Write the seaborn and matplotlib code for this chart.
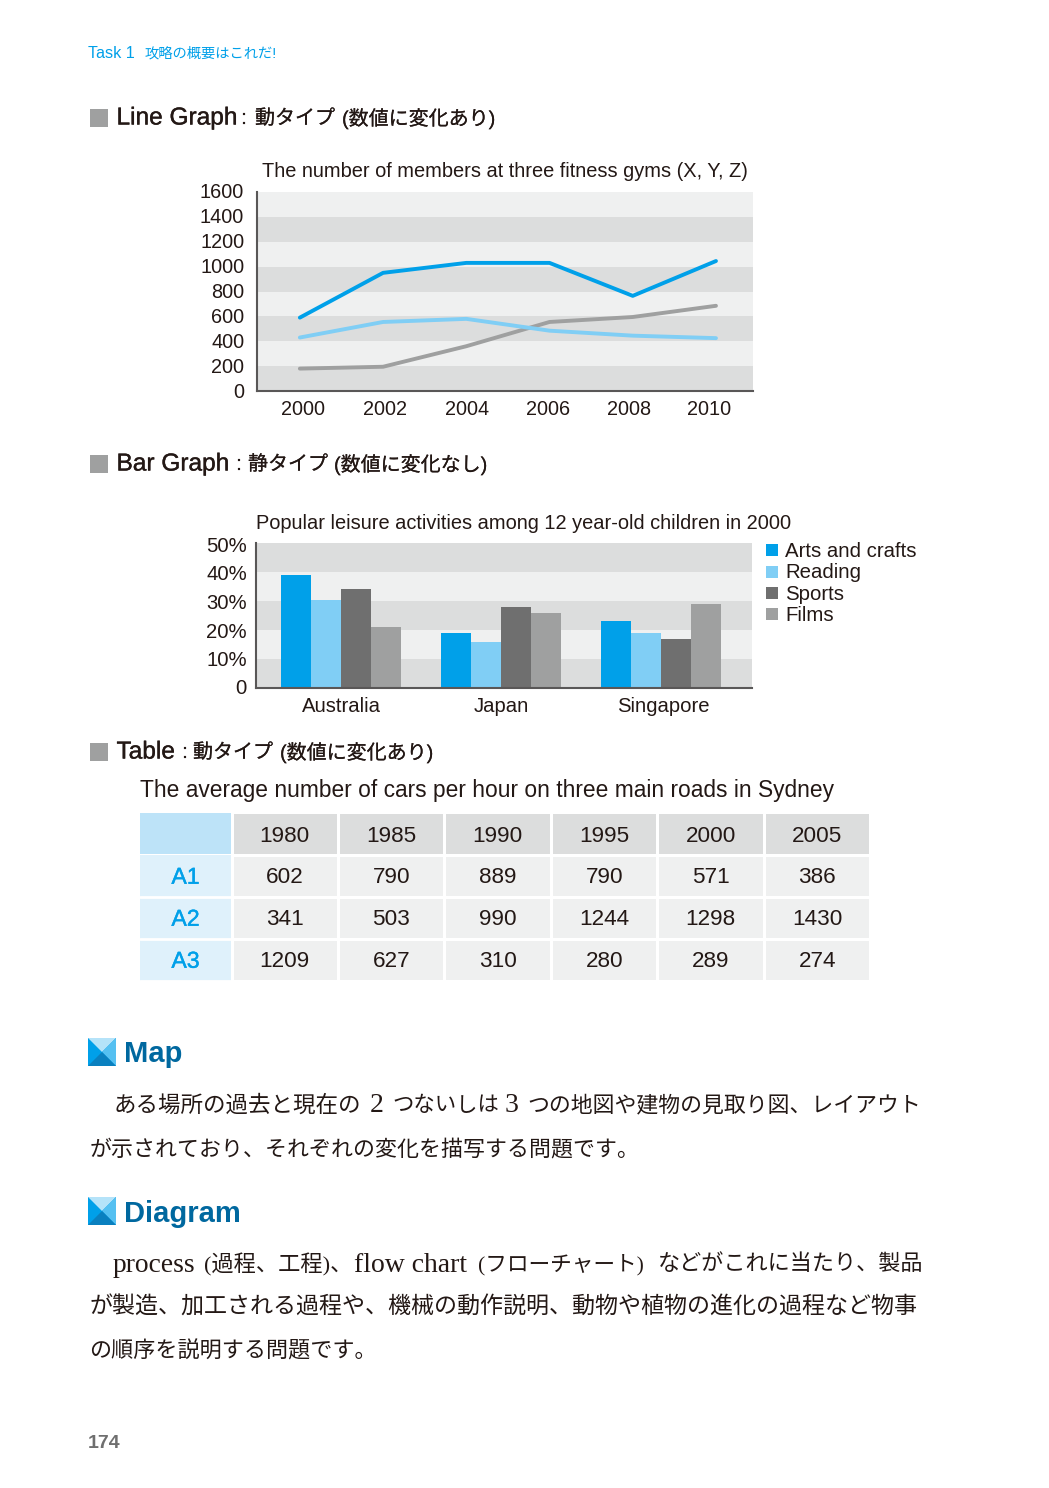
import numpy as np
import pandas as pd
import matplotlib
matplotlib.use('Agg')
import matplotlib.pyplot as plt
import matplotlib.patheffects as pe
from matplotlib.colors import ListedColormap
from matplotlib.patches import Polygon, Rectangle
from matplotlib.transforms import ScaledTranslation
import seaborn as sns

W, H = 1049, 1488

# line graph
anos = [2000, 2002, 2004, 2006, 2008, 2010]
gym_x = [590, 950, 1030, 1030, 765, 1045]
gym_y = [180, 195, 360, 555, 595, 685]
gym_z = [430, 555, 580, 485, 445, 425]
line_ticks = [0, 200, 400, 600, 800, 1000, 1200, 1400, 1600]

# bar graph
paises = ['Australia', 'Japan', 'Singapore']
atividades = ['Arts and crafts', 'Reading', 'Sports', 'Films']
arts = [39, 19, 23]
reading = [30.5, 16, 19]
sports = [34, 28, 17]
films = [21, 26, 29]
bar_ticks = [0, 10, 20, 30, 40, 50]
bar_tick_labels = ['0', '10%', '20%', '30%', '40%', '50%']

# table
tabela_anos = ['1980', '1985', '1990', '1995', '2000', '2005']
tabela_linhas = ['A1', 'A2', 'A3']
a1 = [602, 790, 889, 790, 571, 386]
a2 = [341, 503, 990, 1244, 1298, 1430]
a3 = [1209, 627, 310, 280, 289, 274]

AZUL = '#00a0e9'
AZUL_CLARO = '#80cef5'
CINZA = '#9fa0a0'
CINZA_ESC = '#6f6f6f'
FAIXA_ESC = '#dcdddd'
FAIXA_CLA = '#eff0f0'
TEXTO = '#231815'
TITULO = '#00689f'
SANS = ['Liberation Sans', 'Noto Sans CJK JP']
SERIF = ['Liberation Serif', 'Noto Sans CJK JP']

sns.set_theme(style='white')
plt.rcParams['font.family'] = SANS
plt.rcParams['axes.unicode_minus'] = False

fig = plt.figure(figsize=(W / 100, H / 100), dpi=100, facecolor='white')


def caixa(x0, y0, x1, y1):
    """Axes a partir de pixels da pagina (origem no topo)"""
    return fig.add_axes([x0 / W, 1 - y1 / H, (x1 - x0) / W, (y1 - y0) / H])


def desloca(label, dx, dy):
    label.set_transform(label.get_transform() + ScaledTranslation(dx / 100, dy / 100, fig.dpi_scale_trans))


# camada da pagina, em pixels
pagina = fig.add_axes([0, 0, 1, 1], zorder=-1)
pagina.set_xlim(0, W)
pagina.set_ylim(H, 0)
pagina.axis('off')


def escreve(x, y, s, size, color=TEXTO, family=SANS, grosso=0, **kw):
    t = pagina.text(x, y + 1.5, s, fontsize=size, color=color, family=family,
                    va='center', ha=kw.pop('ha', 'left'), **kw)
    if grosso:
        t.set_path_effects([pe.withStroke(linewidth=grosso, foreground=color)])
    return t


def titulo_secao(y, partes):
    pagina.add_patch(Rectangle((90, y - 8.5), 18, 18, color=CINZA, lw=0))
    nome, x_nome = partes[0]
    escreve(x_nome, y, nome, 17.6, grosso=0.25)
    for s, x in partes[1:]:
        escreve(x, y, s, 14.4, grosso=0.12)


def icone(x, y):
    s = 28
    meio = (x + s / 2, y + s / 2)
    pagina.add_patch(Rectangle((x, y), s, s, color=AZUL, lw=0))
    pagina.add_patch(Polygon([(x, y), (x + s, y), meio], color='#b5e3f9', lw=0))
    pagina.add_patch(Polygon([(x + s, y), (x + s, y + s), meio], color='#55c0f1', lw=0))
    pagina.add_patch(Polygon([(x, y + s), (x + s, y + s), meio], color='#0a80bf', lw=0))


escreve(88, 52, 'Task 1', 11.6, color=AZUL)
escreve(145, 52, '攻略の概要はこれだ!', 10.3, color=AZUL)
titulo_secao(117, [('Line Graph', 116.5), (':', 241), ('動タイプ', 255), ('(数値に変化あり)', 342)])
titulo_secao(463, [('Bar Graph', 116.5), (':', 236), ('静タイプ', 248), ('(数値に変化なし)', 334)])
titulo_secao(751, [('Table', 116.5), (':', 182), ('動タイプ', 193), ('(数値に変化あり)', 280)])

# ---- grafico de linhas
ax = caixa(257, 192, 753, 391)
for i in range(8):
    ax.axhspan(i * 200, (i + 1) * 200, color=FAIXA_ESC if i % 2 == 0 else FAIXA_CLA, lw=0, zorder=0)
df_linhas = pd.DataFrame({'ano': anos * 3,
                          'valor': gym_x + gym_y + gym_z,
                          'gym': ['X'] * 6 + ['Y'] * 6 + ['Z'] * 6})
sns.lineplot(data=df_linhas, x='ano', y='valor', hue='gym', ax=ax, legend=False, linewidth=2.8,
             palette={'X': AZUL, 'Y': CINZA, 'Z': AZUL_CLARO}, solid_capstyle='round', zorder=3)
ax.set_xlim(1998.97, 2010.89)
ax.set_ylim(0, 1600)
ax.set_xlabel('')
ax.set_ylabel('')
ax.set_yticks(line_ticks)
ax.set_xticks(anos)
ax.tick_params(left=False, bottom=False, labelsize=14.3, labelcolor=TEXTO)
ax.tick_params(axis='y', pad=3.2)
ax.tick_params(axis='x', pad=0.7)
for lab, dx in zip(ax.get_xticklabels(), [3, 2, 1, -1, -4, -7]):
    desloca(lab, dx, 0)
for lab in ax.get_yticklabels():
    desloca(lab, 0, 1)
sns.despine(ax=ax, top=True, right=True)
for lado in ['left', 'bottom']:
    ax.spines[lado].set_color('#595757')
    ax.spines[lado].set_linewidth(1.5)
escreve(262, 170, 'The number of members at three fitness gyms (X, Y, Z)', 14.4)
for nome, yy in zip(['X', 'Y', 'Z'], [258, 304, 338]):
    escreve(735, yy, nome, 14.4, ha='center')

# ---- grafico de barras
ax2 = caixa(256, 543, 752, 688)
for i in range(5):
    ax2.axhspan(i * 10, (i + 1) * 10, color=FAIXA_ESC if i % 2 == 0 else FAIXA_CLA, lw=0, zorder=0)
df_barras = pd.DataFrame({'pais': paises * 4,
                          'valor': arts + reading + sports + films,
                          'atividade': np.repeat(atividades, 3)})
sns.barplot(data=df_barras, x='pais', y='valor', hue='atividade', ax=ax2, width=0.75, gap=0,
            palette=[AZUL, AZUL_CLARO, CINZA_ESC, CINZA], saturation=1, errorbar=None, legend=False,
            linewidth=0, zorder=2)
ax2.set_xlim(-0.531, 2.569)
ax2.set_ylim(0, 50)
ax2.set_xlabel('')
ax2.set_ylabel('')
ax2.set_yticks(bar_ticks)
ax2.set_yticklabels(bar_tick_labels)
ax2.tick_params(left=False, bottom=False, labelsize=14.6, labelcolor=TEXTO)
ax2.tick_params(axis='y', pad=0.5)
ax2.tick_params(axis='x', pad=0.3)
for lab, dy in zip(ax2.get_yticklabels(), [1, 0, -1, 0, 0, -1]):
    desloca(lab, 0, dy)
for lab, dx in zip(ax2.get_xticklabels(), [0, 0, 2]):
    desloca(lab, dx, 0)
sns.despine(ax=ax2, top=True, right=True)
for lado in ['left', 'bottom']:
    ax2.spines[lado].set_color('#595757')
    ax2.spines[lado].set_linewidth(1.5)
escreve(256, 522, 'Popular leisure activities among 12 year-old children in 2000', 14.4)
for nome, cor, yy in zip(atividades, [AZUL, AZUL_CLARO, CINZA_ESC, CINZA], [550, 571.5, 593, 614]):
    pagina.add_patch(Rectangle((766, yy - 6), 12, 12, color=cor, lw=0))
    escreve(785, yy, nome, 14.7)

# ---- tabela
escreve(140, 789, 'The average number of cars per hour on three main roads in Sydney', 16.4)
corpo = pd.DataFrame([a1, a2, a3], index=tabela_linhas, columns=tabela_anos)
kws = {'size': 16.2, 'color': TEXTO}
ax3 = caixa(231.5, 855, 870.5, 981)
sns.heatmap(corpo, ax=ax3, cmap=ListedColormap([FAIXA_CLA]), annot=True, fmt='d', annot_kws=kws,
            cbar=False, linewidths=2, linecolor='white', xticklabels=False, yticklabels=False)
ax4 = caixa(231.5, 812, 870.5, 855)
sns.heatmap(np.zeros((1, 6)), ax=ax4, cmap=ListedColormap([FAIXA_ESC]),
            annot=np.array([tabela_anos]), fmt='', annot_kws=kws,
            cbar=False, linewidths=2, linecolor='white', xticklabels=False, yticklabels=False)
ax5 = caixa(140, 855, 231, 981)
sns.heatmap(np.zeros((3, 1)), ax=ax5, cmap=ListedColormap(['#dff1fb']),
            annot=np.array(tabela_linhas).reshape(3, 1), fmt='',
            annot_kws={'size': 16.6, 'color': AZUL},
            cbar=False, xticklabels=False, yticklabels=False, linewidths=0)
for t in list(ax3.texts) + list(ax5.texts):
    x0, y0 = t.get_position()
    t.set_position((x0, y0 + 0.03))
for t in ax4.texts:
    x0, y0 = t.get_position()
    t.set_position((x0, y0 + 0.06))
for t in ax5.texts:
    t.set_path_effects([pe.withStroke(linewidth=0.3, foreground=AZUL)])
for y in [1, 2, 3]:
    ax5.axhline(y, color='white', lw=2)
pagina.add_patch(Rectangle((140, 813), 91, 41, color='#bde3f8', lw=0))

# ---- texto da pagina
icone(88, 1038)
escreve(124, 1053, 'Map', 21, color=TITULO, fontweight='bold')
for s, x, tam in [('ある場所の過去と現在の', 114, 16.2), ('2', 370, 20), ('つないしは', 392, 15.4),
                  ('3', 505, 20), ('つの地図や建物の見取り図、レイアウト', 527, 15.75)]:
    escreve(x, 1104.5, s, tam, family=SERIF)
escreve(90, 1148, 'が示されており、それぞれの変化を描写する問題です。', 15.8, family=SERIF)
icone(88, 1197)
escreve(124, 1212, 'Diagram', 21, color=TITULO, fontweight='bold')
for s, x, tam in [('process', 113, 19.8), ('(過程、工程)、', 204, 16), ('flow chart', 354, 20),
                  ('(フローチャート)', 478, 15.6), ('などがこれに当たり、製品', 658, 15.9)]:
    escreve(x, 1263.5, s, tam, family=SERIF)
escreve(90, 1306.5, 'が製造、加工される過程や、機械の動作説明、動物や植物の進化の過程など物事', 16.6, family=SERIF)
escreve(89, 1350.5, 'の順序を説明する問題です。', 15.9, family=SERIF)
escreve(88, 1442, '174', 14, color=CINZA_ESC, fontweight='bold')

fig.savefig('out.png', dpi=100)
